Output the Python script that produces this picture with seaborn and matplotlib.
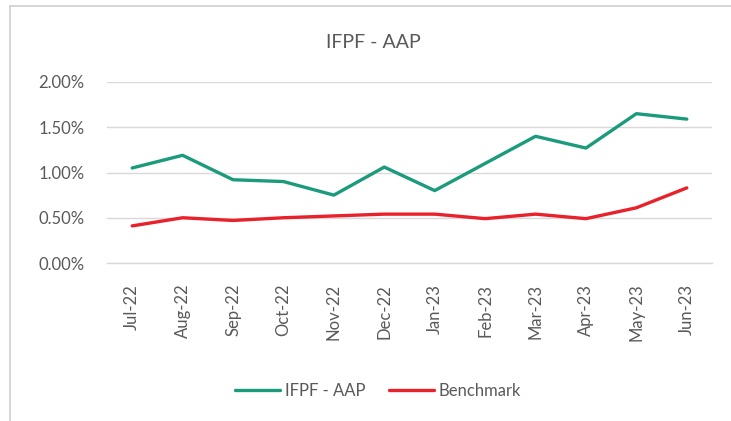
import pandas as pd
import matplotlib.pyplot as plt
import seaborn as sns
from matplotlib.lines import Line2D
from matplotlib.ticker import FuncFormatter, FixedLocator

months = ['Jul-22', 'Aug-22', 'Sep-22', 'Oct-22', 'Nov-22', 'Dec-22',
          'Jan-23', 'Feb-23', 'Mar-23', 'Apr-23', 'May-23', 'Jun-23']
fund = [1.05, 1.19, 0.92, 0.90, 0.75, 1.06, 0.80, 1.10, 1.40, 1.27, 1.65, 1.59]
benchmark = [0.41, 0.50, 0.47, 0.50, 0.52, 0.54, 0.54, 0.49, 0.54, 0.49, 0.61, 0.83]
series_names = ['IFPF - AAP', 'Benchmark']
y_ticks = [0.0, 0.5, 1.0, 1.5, 2.0]

df = pd.DataFrame({'Month': months * 2,
                   'Return': fund + benchmark,
                   'Series': [series_names[0]] * 12 + [series_names[1]] * 12})

sns.set_style('white')
plt.rcParams['font.family'] = ['Lato', 'DejaVu Sans']
grey = '#595959'

fig = plt.figure(figsize=(7.31, 4.21), dpi=100)
ax = fig.add_axes([107 / 731, 1 - 263 / 421, 605 / 731, 181 / 421])

sns.lineplot(data=df, x='Month', y='Return', hue='Series', sort=False,
             palette=['#1A9B7B', '#E8212B'], linewidth=2.4, ax=ax, legend=True)

ax.set_xlim(-0.5, len(months) - 0.5)
ax.set_ylim(0, 2.0)
ax.set_yticks(y_ticks)
ax.yaxis.set_major_formatter(FuncFormatter(lambda v, p: f'{v:.2f}%'))
ax.grid(axis='y', color='#D9D9D9', linewidth=1)
ax.set_axisbelow(True)
for s in ['top', 'right', 'left']:
    ax.spines[s].set_visible(False)
ax.spines['bottom'].set_color('#D9D9D9')
ax.spines['bottom'].set_linewidth(1)

ax.tick_params(axis='y', length=0, labelsize=12, labelcolor=grey, pad=16)
ax.tick_params(axis='x', which='major', length=0, labelsize=12,
               labelcolor=grey, labelrotation=90, pad=15)
ax.xaxis.set_minor_locator(FixedLocator([i - 0.5 for i in range(len(months) + 1)]))
ax.tick_params(axis='x', which='minor', length=5, color='#D9D9D9', width=1)
ax.set_xlabel('')
ax.set_ylabel('')

fig.text(373 / 731, 1 - 42 / 421, 'IFPF - AAP', ha='center', va='center',
         fontsize=14, color=grey)

handles, labels = ax.get_legend_handles_labels()
ax.legend_.remove()
fig.legend(handles, labels, loc='center', bbox_to_anchor=(378 / 731, 1 - 391 / 421),
           ncol=2, frameon=False, fontsize=12, labelcolor=grey,
           handlelength=2.7, columnspacing=1.4, handletextpad=0.3)

# chart border (only left and top edges are inside the screenshot)
fig.add_artist(Line2D([9.5 / 731, 9.5 / 731], [0, 1 - 6 / 421],
                      transform=fig.transFigure, color='#D0D0D0', linewidth=1.2))
fig.add_artist(Line2D([9.5 / 731, 1], [1 - 6 / 421, 1 - 6 / 421],
                      transform=fig.transFigure, color='#D0D0D0', linewidth=1.2))

fig.savefig('out.png', dpi=100)
